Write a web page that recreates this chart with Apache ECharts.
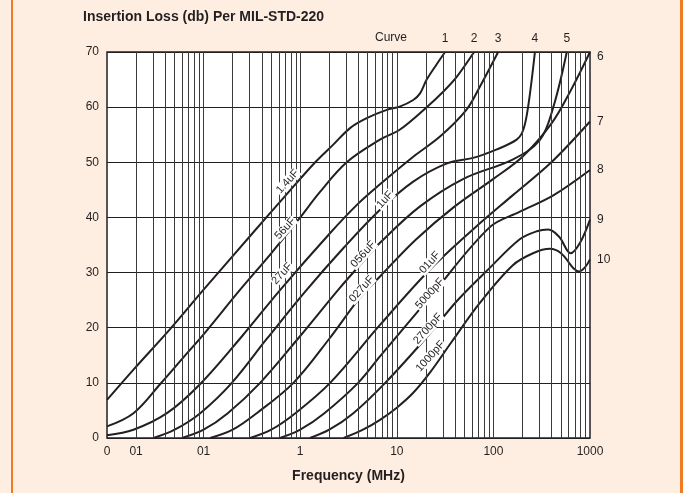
<!DOCTYPE html>
<html><head><meta charset="utf-8">
<script src="https://cdn.jsdelivr.net/npm/echarts@6/dist/echarts.min.js"></script>
<style>html,body{margin:0;padding:0;background:#fdeee1;}#c{width:683px;height:493px;}</style>
</head><body><div id="c"></div>
<script>
// Frequency (MHz), insertion loss (dB)
const curve1 = [[0.01,6.9],[0.0188,12.4],[0.0452,19.8],[0.1,26.9],[0.316,37],[0.708,44],[1.43,50],[2.2,53.2],[3.28,56.2],[4.88,58],[7.87,59.5],[10.7,60.1],[14.8,61.3],[17.4,62.5],[20.4,65],[25.7,67.7],[31.6,70]];
const curve2 = [[0.01,2.1],[0.0188,4.5],[0.0356,9.8],[0.0631,14.8],[0.1,18.8],[0.239,26.9],[0.501,33.5],[1.0,40],[1.58,44.5],[3.03,50],[6.7,54.1],[10.7,55.9],[20.4,60],[30.2,62.8],[41.7,65.5],[63.1,70]];
const curve3 = [[0.01,0.5],[0.0188,1.5],[0.0417,4.5],[0.0923,9.8],[0.251,18.5],[0.631,27],[2.0,37],[3.98,42.5],[6.7,46],[14.8,51],[28.2,54.7],[52.5,59.5],[72.4,63.7],[112,70]];
const curve4 = [[0.0303,0],[0.0501,1.5],[0.0923,4.5],[0.196,10],[0.452,18],[1.12,26.5],[2.82,34.5],[6.7,41.4],[14.8,46.5],[33.1,49.8],[61.7,50.8],[107,52.3],[174,54.1],[204,55.9],[229,60.1],[269,70]];
const curve5 = [[0.0597,0],[0.1,1.5],[0.178,4.5],[0.385,10],[1.0,18.5],[2.51,27],[4.47,32],[6.7,35.4],[17.4,42],[49,47],[158,50.5],[302,54],[417,60],[575,70]];
const curve6 = [[0.117,0],[0.2,1.5],[0.355,4.5],[0.851,10],[2.0,18],[4.17,25.5],[6.7,29.3],[15.8,36],[39.8,42],[100,47],[200,51],[398,57],[631,63],[1000,70]];
const curve7 = [[0.303,0],[0.501,1.5],[0.891,4.5],[2.04,10],[6.7,20.5],[21.9,30.5],[63.1,38],[158,44],[398,50],[1000,57.4]];
const curve8 = [[0.619,0],[1.0,1.5],[1.78,4.5],[3.98,10],[6.7,14.8],[21.9,25.5],[91.2,38.2],[186,41],[417,44],[1000,48.6]];
const curve9 = [[1.26,0],[2.0,1.5],[3.55,4.5],[7.59,10],[20.9,18.5],[41.7,24.8],[91.2,30.8],[186,36],[282,37.5],[369,37.8],[479,36.5],[631,33.5],[794,35.5],[1000,39.6]];
const curve10 = [[2.82,0],[4.47,1.5],[6.7,3.3],[10,5.5],[14.8,8.2],[21.9,11.8],[37.2,17.5],[72.4,24.5],[158,31.3],[257,33.5],[385,34.3],[501,33.5],[771,30.2],[891,31],[1000,32.4]];
const curves = [curve1,curve2,curve3,curve4,curve5,curve6,curve7,curve8,curve9,curve10];
const curveNumbers = ['1','2','3','4','5','6','7','8','9','10'];
const capLabels = ['1.4uF','56uF','27uF','1uF','056uF','027uF','01uF','5000pF','2700pF','1000pF'];
const capLabelAt = [[0.74,46.5],[0.70,38],[0.65,29.8],[7.55,43.2],[4.5,33.3],[4.33,27],[22,31.8],[22,26.2],[21,19.8],[22.3,14.8]];
const xTickValues = [0.01,0.02,0.1,1,10,100,1000];
const xTickLabels = ['0','01','01','1','10','100','1000'];

const FONT = 'Liberation Sans, Arial, sans-serif';
const INK = '#231f20';
const gridX = [];
for (let d = 0.01; d < 1000; d *= 10) {
  for (let k = 1; k <= 9; k++) {
    const v = +(d * k).toPrecision(3);
    if (v > 0.01 && v < 1000) gridX.push({xAxis: v});
  }
}

const series = [{
  type: 'line', data: [], silent: true, z: 1,
  markLine: {silent: true, symbol: 'none', animation: false,
    label: {show: false},
    lineStyle: {color: '#3a3a3a', width: 1, type: 'solid'},
    data: gridX}
}];
curves.forEach((c, i) => {
  const last = c[c.length - 1];
  const topExit = i < 5;
  series.push({
    type: 'line', data: c, smooth: 0.35, symbol: 'none', z: 3,
    lineStyle: {color: INK, width: 2},
    markPoint: {
      symbol: 'circle', symbolSize: 0, animation: false,
      data: [
        {coord: last, label: {show: true, formatter: curveNumbers[i],
          position: topExit ? 'top' : 'right', distance: 7,
          offset: (i === 5) ? [0, 5] : [0, 0],
          color: INK, fontSize: 12, fontFamily: FONT}},
        {coord: capLabelAt[i], label: {show: true, formatter: capLabels[i],
          position: 'inside', rotate: 48, color: INK, fontSize: 11, fontFamily: FONT,
          backgroundColor: '#ffffff', padding: [0, 1]}}
      ]
    }
  });
});

const chart = echarts.init(document.getElementById('c'));
chart.setOption({
  animation: false,
  backgroundColor: '#fdeee1',
  title: {text: 'Insertion Loss (db) Per MIL-STD-220', left: 78, top: 5,
    textStyle: {fontSize: 14, fontWeight: 'bold', color: INK, fontFamily: FONT}},
  grid: {show: true, left: 107, right: 93, top: 52, bottom: 55,
    backgroundColor: '#ffffff', borderColor: INK, borderWidth: 1.5},
  xAxis: {type: 'log', logBase: 10, min: 0.01, max: 1000,
    name: 'Frequency (MHz)', nameLocation: 'middle', nameGap: 31,
    nameTextStyle: {fontSize: 14, fontWeight: 'bold', color: INK, fontFamily: FONT},
    axisLine: {show: false}, axisTick: {show: false}, splitLine: {show: false},
    axisLabel: {customValues: xTickValues, color: INK, fontSize: 12, margin: 8, fontFamily: FONT,
      formatter: v => {
        let best = 0;
        xTickValues.forEach((t, j) => { if (Math.abs(Math.log10(t) - Math.log10(v)) < Math.abs(Math.log10(xTickValues[best]) - Math.log10(v))) best = j; });
        return xTickLabels[best];
      }}},
  yAxis: {type: 'value', min: 0, max: 70, interval: 10,
    axisLine: {show: false}, axisTick: {show: false},
    splitLine: {lineStyle: {color: INK, width: 1}},
    axisLabel: {color: INK, fontSize: 12, margin: 8, fontFamily: FONT}},
  graphic: [
    {type: 'text', left: 375, top: 32, style: {text: 'Curve', fontSize: 12, fill: INK, fontFamily: FONT}},
    {type: 'rect', shape: {x: 11, y: 0, width: 2, height: 493}, style: {fill: '#f07b22'}},
    {type: 'rect', shape: {x: 680, y: 0, width: 3, height: 493}, style: {fill: '#f07b22'}}
  ],
  series: series
});
</script></body></html>
